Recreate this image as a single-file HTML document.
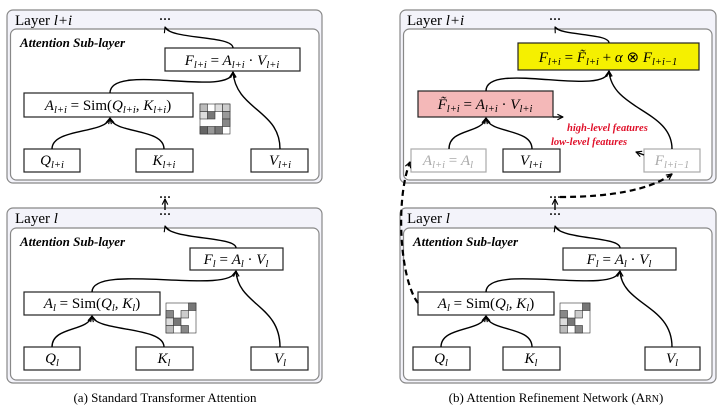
<!DOCTYPE html>
<html><head><meta charset="utf-8"><style>
body{margin:0;background:#fff}
svg{display:block}
text{font-family:"Liberation Serif",serif;}
.m{font-style:italic;font-size:15px}
.s{font-size:10.5px}
</style></head><body>
<svg width="720" height="407" viewBox="0 0 720 407" xmlns="http://www.w3.org/2000/svg">
<defs>
<marker id="ar" viewBox="0 0 10 10" refX="9" refY="5" markerWidth="7" markerHeight="7" orient="auto-start-reverse" markerUnits="userSpaceOnUse"><path d="M1,1 L9,5 L1,9" fill="none" stroke="#000" stroke-width="1.6"/></marker>
</defs>
<g stroke="#888" stroke-width="1.2">
<rect x="7" y="10" width="315" height="173" rx="6" fill="#f3f3fa"/>
<rect x="10.5" y="29" width="308.5" height="151" rx="6" fill="#fff"/>
<rect x="7" y="208" width="315" height="175" rx="6" fill="#f3f3fa"/>
<rect x="10.5" y="228" width="308.5" height="152" rx="6" fill="#fff"/>
<rect x="400" y="10" width="316" height="173" rx="6" fill="#f3f3fa"/>
<rect x="403.5" y="29" width="308.5" height="151" rx="6" fill="#fff"/>
<rect x="400" y="208" width="316" height="175" rx="6" fill="#f3f3fa"/>
<rect x="403.5" y="228" width="308.5" height="152" rx="6" fill="#fff"/>
</g>
<g font-size="15">
<text x="15" y="25">Layer <tspan font-style="italic">l+i</tspan></text>
<text x="15" y="223">Layer <tspan font-style="italic">l</tspan></text>
<text x="407" y="25">Layer <tspan font-style="italic">l+i</tspan></text>
<text x="407" y="223">Layer <tspan font-style="italic">l</tspan></text>
</g>
<g font-size="13" font-weight="bold" font-style="italic">
<text x="20" y="47">Attention Sub-layer</text>
<text x="20" y="246">Attention Sub-layer</text>
<text x="413" y="246">Attention Sub-layer</text>
</g>
<g font-weight="bold" font-size="12">
<text x="159" y="23">···</text><text x="159" y="201">···</text><text x="159" y="218">···</text>
<text x="549" y="23">···</text><text x="549" y="201">···</text><text x="549" y="218">···</text>
</g>
<g stroke="#222" stroke-width="1.2" fill="#fff">
<rect x="165" y="48" width="135" height="23"/>
<rect x="24" y="93" width="169" height="24"/>
<rect x="24" y="149" width="56" height="23"/>
<rect x="136" y="149" width="57" height="23"/>
<rect x="251" y="149" width="57" height="23"/>
<rect x="190" y="248" width="93" height="22"/>
<rect x="24" y="292" width="136" height="23"/>
<rect x="24" y="347" width="56" height="23"/>
<rect x="136" y="347" width="57" height="23"/>
<rect x="251" y="347" width="57" height="23"/>
<rect x="518" y="43" width="181" height="27" fill="#f5f000"/>
<rect x="418" y="91" width="135" height="26" fill="#f4b8b8"/>
<rect x="503" y="149" width="57" height="23"/>
<rect x="563" y="248" width="113" height="22"/>
<rect x="418" y="292" width="136" height="23"/>
<rect x="413" y="347" width="57" height="23"/>
<rect x="503" y="347" width="57" height="23"/>
<rect x="645" y="347" width="55" height="23"/>
</g>
<g stroke="#aaa" stroke-width="1.2" fill="#fff">
<rect x="411" y="149" width="75" height="23"/>
<rect x="644" y="149" width="56" height="23"/>
</g>
<g stroke="#333" stroke-width="0.6">
<g transform="translate(200,104)">
<rect width="30" height="30" fill="#fff"/>
<rect x="0" y="0" width="7.5" height="7.5" fill="#bbb"/><rect x="15" y="0" width="7.5" height="7.5" fill="#ddd"/><rect x="22.5" y="0" width="7.5" height="7.5" fill="#ccc"/>
<rect x="7.5" y="7.5" width="7.5" height="7.5" fill="#777"/><rect x="0" y="7.5" width="7.5" height="7.5" fill="#ddd"/><rect x="22.5" y="7.5" width="7.5" height="7.5" fill="#999"/>
<rect x="22.5" y="15" width="7.5" height="7.5" fill="#888"/>
<rect x="0" y="22.5" width="7.5" height="7.5" fill="#666"/><rect x="7.5" y="22.5" width="7.5" height="7.5" fill="#999"/><rect x="15" y="22.5" width="7.5" height="7.5" fill="#777"/>
</g>
<g transform="translate(166,303)">
<rect width="30" height="30" fill="#fff"/>
<rect x="22.5" y="0" width="7.5" height="7.5" fill="#777"/><rect x="0" y="7.5" width="7.5" height="7.5" fill="#888"/><rect x="15" y="7.5" width="7.5" height="7.5" fill="#ccc"/>
<rect x="7.5" y="15" width="7.5" height="7.5" fill="#777"/><rect x="0" y="15" width="7.5" height="7.5" fill="#ddd"/>
<rect x="0" y="22.5" width="7.5" height="7.5" fill="#bbb"/><rect x="15" y="22.5" width="7.5" height="7.5" fill="#888"/>
</g>
<g transform="translate(560,303)">
<rect width="30" height="30" fill="#fff"/>
<rect x="22.5" y="0" width="7.5" height="7.5" fill="#777"/><rect x="0" y="7.5" width="7.5" height="7.5" fill="#888"/><rect x="15" y="7.5" width="7.5" height="7.5" fill="#ccc"/>
<rect x="7.5" y="15" width="7.5" height="7.5" fill="#777"/><rect x="0" y="15" width="7.5" height="7.5" fill="#ddd"/>
<rect x="0" y="22.5" width="7.5" height="7.5" fill="#bbb"/><rect x="15" y="22.5" width="7.5" height="7.5" fill="#888"/>
</g>
</g>
<g fill="none" stroke="#000" stroke-width="1.4" marker-end="url(#ar)">
<path d="M233,48 C233,35 170,40 165,27"/>
<path d="M110,93 C110,62 230,98 233,72"/>
<path d="M280,149 C280,110 236,110 233,72"/>
<path d="M52,149 C52,128 106,134 110,118"/>
<path d="M164,149 C164,128 114,134 110,118"/>
<path d="M165,210 L165,199"/>
<path d="M236,248 C236,236 170,240 165,226"/>
<path d="M92,292 C92,262 230,296 236,271"/>
<path d="M280,347 C280,305 238,305 236,271"/>
<path d="M52,347 C52,326 88,332 92,316"/>
<path d="M164,347 C164,326 96,332 92,316"/>
<path d="M609,43 C609,33 560,36 555,27"/>
<path d="M486,91 C486,60 605,98 609,71"/>
<path d="M672,149 C672,110 612,110 609,71"/>
<path d="M449,149 C449,128 482,134 486,118"/>
<path d="M532,149 C532,128 490,134 486,118"/>
<path d="M555,210 L555,199"/>
<path d="M620,248 C620,236 560,240 555,226"/>
<path d="M486,292 C486,262 614,296 620,271"/>
<path d="M672,347 C672,305 622,305 620,271"/>
<path d="M441,347 C441,326 482,332 486,316"/>
<path d="M532,347 C532,326 490,332 486,316"/>
<path d="M553,117 L563,117"/>
<path d="M644,155 L636,152"/>
</g>
<g fill="none" stroke="#000" stroke-width="2.2" stroke-dasharray="6,4" marker-end="url(#ar)">
<path d="M418,303 C400,280 395,200 410,162"/>
<path d="M560,197 C610,197 650,190 672,174"/>
</g>
<g class="m" text-anchor="middle">
<text x="232" y="65">F<tspan class="s" dy="3">l+i</tspan><tspan dy="-3"> </tspan><tspan font-style="normal">=</tspan> A<tspan class="s" dy="3">l+i</tspan><tspan dy="-3"> </tspan><tspan font-style="normal">·</tspan> V<tspan class="s" dy="3">l+i</tspan></text>
<text x="108" y="110">A<tspan class="s" dy="3">l+i</tspan><tspan dy="-3" font-style="normal"> = Sim(</tspan>Q<tspan class="s" dy="3">l+i</tspan><tspan dy="-3" font-style="normal">, </tspan>K<tspan class="s" dy="3">l+i</tspan><tspan dy="-3" font-style="normal">)</tspan></text>
<text x="52" y="165">Q<tspan class="s" dy="3">l+i</tspan></text>
<text x="164" y="165">K<tspan class="s" dy="3">l+i</tspan></text>
<text x="280" y="165">V<tspan class="s" dy="3">l+i</tspan></text>
<text x="236" y="264">F<tspan class="s" dy="3">l</tspan><tspan dy="-3" font-style="normal"> = </tspan>A<tspan class="s" dy="3">l</tspan><tspan dy="-3" font-style="normal"> · </tspan>V<tspan class="s" dy="3">l</tspan></text>
<text x="92" y="308">A<tspan class="s" dy="3">l</tspan><tspan dy="-3" font-style="normal"> = Sim(</tspan>Q<tspan class="s" dy="3">l</tspan><tspan dy="-3" font-style="normal">, </tspan>K<tspan class="s" dy="3">l</tspan><tspan dy="-3" font-style="normal">)</tspan></text>
<text x="52" y="363">Q<tspan class="s" dy="3">l</tspan></text>
<text x="164" y="363">K<tspan class="s" dy="3">l</tspan></text>
<text x="280" y="363">V<tspan class="s" dy="3">l</tspan></text>
<text x="608" y="62">F<tspan class="s" dy="3">l+i</tspan><tspan dy="-3" font-style="normal"> = </tspan>F̃<tspan class="s" dy="3">l+i</tspan><tspan dy="-3" font-style="normal"> + </tspan>α<tspan font-style="normal"> ⊗ </tspan>F<tspan class="s" dy="3">l+i−1</tspan></text>
<text x="485" y="109">F̃<tspan class="s" dy="3">l+i</tspan><tspan dy="-3" font-style="normal"> = </tspan>A<tspan class="s" dy="3">l+i</tspan><tspan dy="-3" font-style="normal"> · </tspan>V<tspan class="s" dy="3">l+i</tspan></text>
<text x="448" y="165" fill="#aaa">A<tspan class="s" dy="3">l+i</tspan><tspan dy="-3" font-style="normal"> = </tspan>A<tspan class="s" dy="3">l</tspan></text>
<text x="531" y="165">V<tspan class="s" dy="3">l+i</tspan></text>
<text x="672" y="165" fill="#aaa">F<tspan class="s" dy="3">l+i−1</tspan></text>
<text x="619" y="264">F<tspan class="s" dy="3">l</tspan><tspan dy="-3" font-style="normal"> = </tspan>A<tspan class="s" dy="3">l</tspan><tspan dy="-3" font-style="normal"> · </tspan>V<tspan class="s" dy="3">l</tspan></text>
<text x="486" y="308">A<tspan class="s" dy="3">l</tspan><tspan dy="-3" font-style="normal"> = Sim(</tspan>Q<tspan class="s" dy="3">l</tspan><tspan dy="-3" font-style="normal">, </tspan>K<tspan class="s" dy="3">l</tspan><tspan dy="-3" font-style="normal">)</tspan></text>
<text x="441" y="363">Q<tspan class="s" dy="3">l</tspan></text>
<text x="531" y="363">K<tspan class="s" dy="3">l</tspan></text>
<text x="672" y="363">V<tspan class="s" dy="3">l</tspan></text>
</g>
<g fill="#e0102a" font-size="10.5" font-weight="bold" font-style="italic">
<text x="567" y="131">high-level features</text>
<text x="551" y="145">low-level features</text>
</g>
<g font-size="13" text-anchor="middle">
<text x="165" y="402">(a) Standard Transformer Attention</text>
<text x="556" y="402">(b) Attention Refinement Network (A<tspan font-size="10">RN</tspan>)</text>
</g>
</svg>
</body></html>
